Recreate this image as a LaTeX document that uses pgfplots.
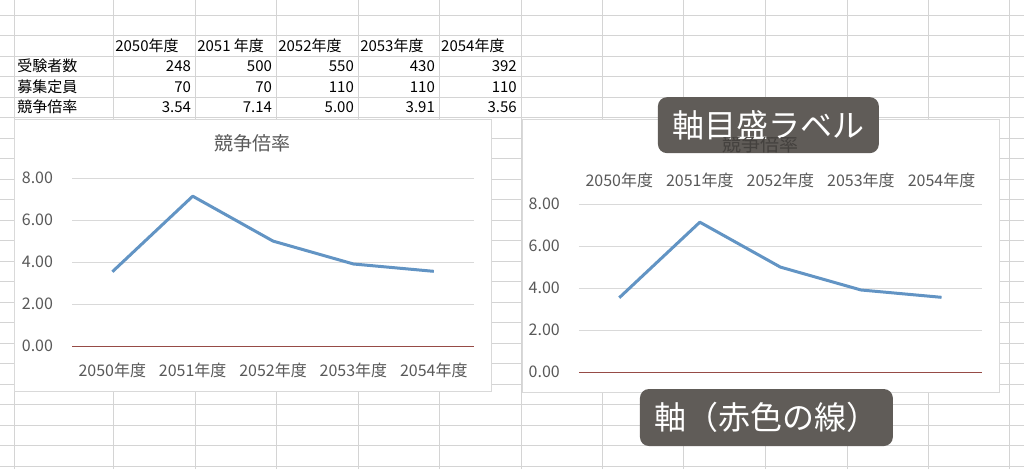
\documentclass[border=0pt]{standalone}
\usepackage{fontspec}
\setmainfont{Noto Sans CJK JP}
\usepackage{pgfplots}
\pgfplotsset{compat=1.18}
\definecolor{cellgrid}{RGB}{212,212,212}
\definecolor{txtgray}{RGB}{89,89,89}
\definecolor{lineblue}{RGB}{98,148,196}
\definecolor{axisred}{RGB}{150,75,70}
\definecolor{boxgray}{RGB}{96,92,88}
\definecolor{majgrid}{RGB}{217,217,217}
\definecolor{shadowtitle}{RGB}{68,65,62}

\pgfplotsset{
  ratechart/.style={
    scale only axis, height=168pt,
    xmin=-0.5, xmax=4.5, ymin=0, ymax=8,
    xtick={0,...,4},
    xticklabels={2050年度,2051年度,2052年度,2053年度,2054年度},
    ytick={2,4,6,8}, extra y ticks={0},
    extra y tick style={ymajorgrids=true, major grid style={draw=axisred, line width=1pt}},
    ymajorgrids, major grid style={draw=majgrid, line width=1pt},
    axis line style={draw=none}, major tick length=0pt,
    tick label style={font=\fontsize{16}{16}\selectfont, text=txtgray, inner sep=0pt},
    yticklabel style={anchor=east, xshift=-19pt},
    /pgf/number format/fixed, /pgf/number format/fixed zerofill,
    /pgf/number format/precision=2, /pgf/number format/assume math mode=true,
  },
}

\begin{document}
\begin{tikzpicture}
\begin{scope}[x=1pt,y=1pt]
  \fill[white] (0,0) rectangle (1024,469);
  \foreach \x in {14,113,195,276,358,439,521,602,683,765,847,928,1009}
    \draw[cellgrid] (\x,0) -- (\x,469);
  \foreach \k in {0,...,22}
    \draw[cellgrid] (0,{454-20.5*\k}) -- (1024,{454-20.5*\k});
  % table
  \begin{scope}[every node/.style={font=\fontsize{15}{18}\selectfont, inner sep=0pt}]
    \node[anchor=west] at (115,423) {2050年度};
    \node[anchor=west] at (197,423) {2051 年度};
    \node[anchor=west] at (278,423) {2052年度};
    \node[anchor=west] at (360,423) {2053年度};
    \node[anchor=west] at (441,423) {2054年度};
    \node[anchor=west] at (17,403) {受験者数};
    \node[anchor=west] at (17,382) {募集定員};
    \node[anchor=west] at (17,362) {競争倍率};
    \foreach \v/\x in {248/191,500/272,550/354,430/435,392/517}
      \node[anchor=east] at (\x,403) {\v};
    \foreach \v/\x in {70/191,70/272,110/354,110/435,110/517}
      \node[anchor=east] at (\x,382) {\v};
    \foreach \v/\x in {3.54/191,7.14/272,5.00/354,3.91/435,3.56/517}
      \node[anchor=east] at (\x,362) {\v};
  \end{scope}
  % chart areas
  \filldraw[fill=white, draw=majgrid] (14,78) rectangle (491,350);
  \filldraw[fill=white, draw=majgrid] (522,77) rectangle (999,350);
  \node[text=txtgray, font=\fontsize{19}{19}\selectfont] at (252.5,326) {競争倍率};
\end{scope}

\begin{axis}[ratechart, width=402pt, at={(72pt,123pt)}, anchor=south west,
    xticklabel style={anchor=center, yshift=-24pt}]
  \addplot[lineblue, line width=3pt, line join=round] coordinates {(0,3.54) (1,7.14) (2,5.00) (3,3.91) (4,3.56)};
\end{axis}

\begin{axis}[ratechart, width=403pt, at={(579pt,97pt)}, anchor=south west,
    xticklabel pos=top, xticklabel style={anchor=center, yshift=24pt}]
  \addplot[lineblue, line width=3pt, line join=round] coordinates {(0,3.54) (1,7.14) (2,5.00) (3,3.91) (4,3.56)};
\end{axis}

\begin{scope}[x=1pt,y=1pt]
  \node[fill=boxgray, rounded corners=9pt, text=white, minimum width=221pt, minimum height=56pt,
        inner sep=0pt, font=\fontsize{32}{32}\selectfont] at (768.5,344) {軸目盛ラベル};
  % chart title showing through the lower part of the callout
  \begin{scope}
    \clip (600,316) rectangle (920,332);
    \node[text=shadowtitle, font=\fontsize{19}{19}\selectfont] at (760.5,325) {競争倍率};
  \end{scope}
  \node[fill=boxgray, rounded corners=9pt, text=white, minimum width=253pt, minimum height=57pt,
        inner sep=0pt, font=\fontsize{32}{32}\selectfont] at (766.5,51.5) {軸（赤色の線）};
\end{scope}
\end{tikzpicture}
\end{document}
